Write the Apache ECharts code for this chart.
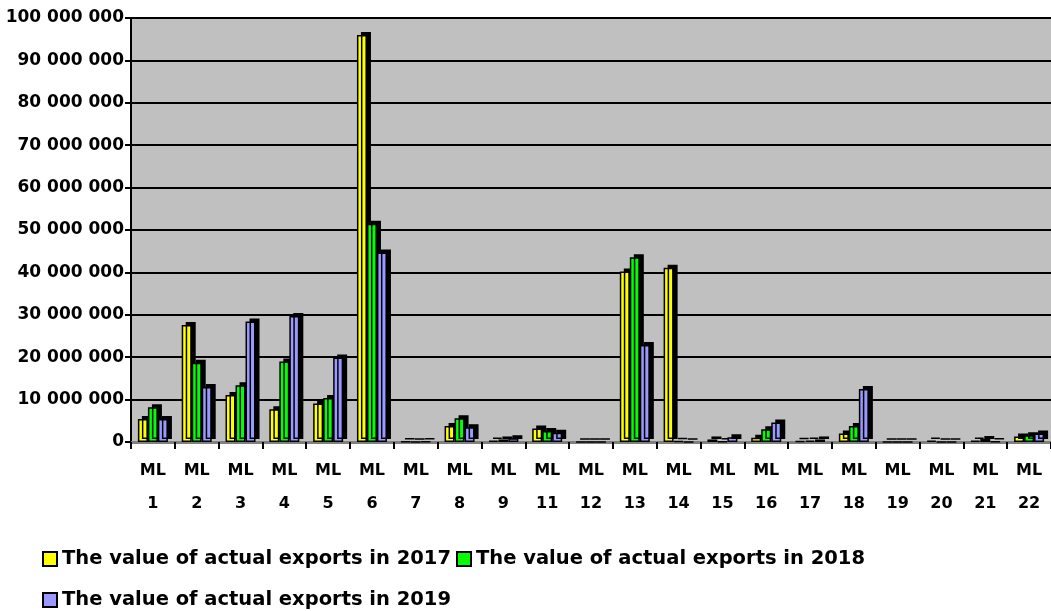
<!DOCTYPE html>
<html lang="en">
<head>
    <meta charset="UTF-8">
    <title>Actual exports</title>
    <script src="https://cdn.jsdelivr.net/npm/echarts@6/dist/echarts.min.js"></script>
    <style>
        html, body { margin: 0; padding: 0; background: #fff; }
        #chart { width: 1051px; height: 611px; }
    </style>
</head>
<body>
<div id="chart"></div>
<script type="text/javascript">
    // categories (there is no ML 10 in the source)
    var regions = ['ML\n1', 'ML\n2', 'ML\n3', 'ML\n4', 'ML\n5', 'ML\n6', 'ML\n7', 'ML\n8', 'ML\n9', 'ML\n11', 'ML\n12',
        'ML\n13', 'ML\n14', 'ML\n15', 'ML\n16', 'ML\n17', 'ML\n18', 'ML\n19', 'ML\n20', 'ML\n21', 'ML\n22'];

    var seriesNames = ['The value of actual exports in 2017', 'The value of actual exports in 2018', 'The value of actual exports in 2019'];

    var exports2017 = [5400000, 27600000, 11100000, 7700000, 9100000, 96000000, 100000, 3800000, 300000, 3200000, 50000,
        40200000, 41100000, 600000, 1000000, 200000, 2000000, 30000, 300000, 300000, 1300000];
    var exports2018 = [8200000, 18700000, 13400000, 19000000, 10400000, 51500000, 50000, 5600000, 600000, 2600000, 30000,
        43600000, 200000, 100000, 3000000, 300000, 3800000, 30000, 50000, 700000, 1600000];
    var exports2019 = [5400000, 13000000, 28400000, 29700000, 19900000, 44700000, 150000, 3500000, 900000, 2200000, 30000,
        22900000, 50000, 1100000, 4600000, 600000, 12500000, 30000, 50000, 100000, 2000000];

    var colors = ['#ffff00', '#00ff00', '#9999ff'];
    var font = 'DejaVu Sans';

    var chart = echarts.init(document.getElementById('chart'));

    // 100000000 -> "100 000 000"
    function spaced(v) {
        return String(v).replace(/\B(?=(\d{3})+(?!\d))/g, ' ');
    }

    // flat bar + black offset shadow to fake the 3D column look
    function makeSeries(name, data, color) {
        return {
            name: name,
            type: 'bar',
            data: data,
            barWidth: 10,
            barGap: '0%',
            itemStyle: {
                color: color,
                borderColor: '#000',
                borderWidth: 1.5,
                shadowColor: '#000',
                shadowBlur: 0,
                shadowOffsetX: 4,
                shadowOffsetY: -3
            }
        };
    }

    var option = {
        animation: false,
        textStyle: { fontFamily: font, fontWeight: 'bold', color: '#000' },
        color: colors,
        grid: {
            left: 131,
            right: 0,
            top: 18,
            bottom: 169,
            show: true,
            backgroundColor: '#c0c0c0',
            borderWidth: 0
        },
        legend: {
            left: 42,
            top: 541,
            padding: 0,
            width: 960,
            itemWidth: 14,
            itemHeight: 14,
            itemGap: 5,
            icon: 'rect',
            data: seriesNames,
            itemStyle: { borderColor: '#000', borderWidth: 2, shadowBlur: 0, shadowOffsetX: 0, shadowOffsetY: 0 },
            textStyle: { fontFamily: font, fontWeight: 'bold', fontSize: 19.5, color: '#000', lineHeight: 36 }
        },
        xAxis: {
            type: 'category',
            data: regions,
            axisLine: { lineStyle: { color: '#808080', width: 3 } },
            axisTick: { show: true, length: 7, lineStyle: { color: '#000', width: 2 } },
            axisLabel: { fontFamily: font, fontWeight: 'bold', fontSize: 16, color: '#000', lineHeight: 33, margin: 12, interval: 0 }
        },
        yAxis: {
            type: 'value',
            min: 0,
            max: 100000000,
            interval: 10000000,
            axisLine: { show: true, lineStyle: { color: '#000', width: 2 } },
            axisTick: { show: true, length: 6, lineStyle: { color: '#000', width: 2 } },
            splitLine: { lineStyle: { color: '#000', width: 2 } },
            axisLabel: {
                fontFamily: font, fontWeight: 'bold', fontSize: 17, color: '#000', margin: 7,
                formatter: spaced
            }
        },
        series: [
            makeSeries(seriesNames[0], exports2017, colors[0]),
            makeSeries(seriesNames[1], exports2018, colors[1]),
            makeSeries(seriesNames[2], exports2019, colors[2])
        ]
    };

    chart.setOption(option);
</script>
</body>
</html>
